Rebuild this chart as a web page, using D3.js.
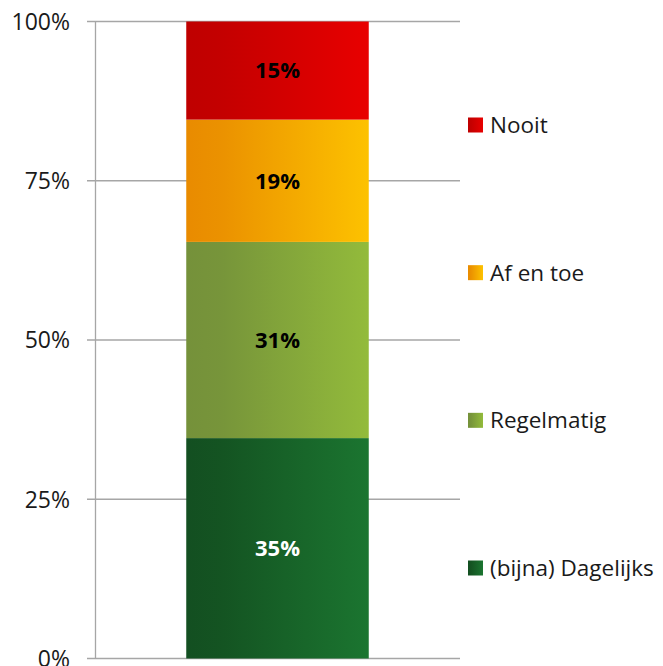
<!DOCTYPE html>
<html>
<head>
<meta charset="utf-8">
<script src="https://cdn.jsdelivr.net/npm/d3@7"></script>
<style>
    body { margin: 0; background: #fff; }
    svg { display: block; font-family: "Open Sans", "Liberation Sans", sans-serif; }
</style>
</head>
<body>
<div id="chart"></div>
<script>
// chart data
const categories = ["Totaal"];
const seriesNames = ["(bijna) Dagelijks", "Regelmatig", "Af en toe", "Nooit"];
const seriesValues = [34.6, 30.8, 19.2, 15.4];
const seriesLabels = ["35%", "31%", "19%", "15%"];
const yTicks = [0, 0.25, 0.5, 0.75, 1];

// gradient colours (left -> right)
const seriesColors = [
    ["#134f21", "#145422", "#1b7530"],
    ["#75913a", "#77953a", "#93bb3b"],
    ["#e98b00", "#eb9200", "#fdc200"],
    ["#bf0000", "#c40000", "#e80000"]
];
const labelColors = ["#ffffff", "#000000", "#000000", "#000000"];

const width = 663;
const height = 666;
const margin = { top: 21.5, right: 203, bottom: 7.5, left: 95 };

const svg = d3.select("#chart")
    .append("svg")
    .attr("width", width)
    .attr("height", height);

const defs = svg.append("defs");
seriesColors.forEach((c, i) => {
    const g = defs.append("linearGradient")
        .attr("id", `grad${i}`)
        .attr("x1", "0%").attr("x2", "100%")
        .attr("y1", "0%").attr("y2", "0%");
    g.append("stop").attr("offset", "0%").attr("stop-color", c[0]);
    g.append("stop").attr("offset", "20%").attr("stop-color", c[1]);
    g.append("stop").attr("offset", "100%").attr("stop-color", c[2]);
});

const x = d3.scaleBand()
    .domain(categories)
    .range([margin.left, width - margin.right])
    .paddingInner(0.5)
    .paddingOuter(0.25);

const y = d3.scaleLinear()
    .domain([0, 1])
    .range([height - margin.bottom, margin.top]);

// gridlines + ticks
svg.append("g")
    .selectAll("line")
    .data(yTicks)
    .join("line")
    .attr("x1", margin.left - 8)
    .attr("x2", width - margin.right)
    .attr("y1", d => y(d))
    .attr("y2", d => y(d))
    .attr("stroke", "#a6a6a6")
    .attr("stroke-width", 1.3);

// y axis line
svg.append("line")
    .attr("x1", margin.left + 0.5)
    .attr("x2", margin.left + 0.5)
    .attr("y1", y(1))
    .attr("y2", y(0))
    .attr("stroke", "#a6a6a6")
    .attr("stroke-width", 1.3);

// y tick labels
svg.append("g")
    .selectAll("text")
    .data(yTicks)
    .join("text")
    .attr("x", margin.left - 25)
    .attr("y", d => y(d))
    .attr("dy", "0.36em")
    .attr("text-anchor", "end")
    .attr("font-size", "23px")
    .attr("fill", "#1a1a1a")
    .text(d3.format(".0%"));

// stacked data
const stackRows = categories.map(() => {
    const row = {};
    seriesNames.forEach((n, i) => row[n] = seriesValues[i] / 100);
    return row;
});
const stacked = d3.stack().keys(seriesNames)(stackRows);

const seg = svg.append("g")
    .selectAll("g")
    .data(stacked)
    .join("g");

seg.selectAll("rect")
    .data((s, i) => s.map(d => ({ d, i })))
    .join("rect")
    .attr("x", (p, j) => x(categories[j]))
    .attr("width", x.bandwidth())
    .attr("y", p => y(p.d[1]))
    .attr("height", p => y(p.d[0]) - y(p.d[1]))
    .attr("fill", p => `url(#grad${p.i})`);

seg.selectAll("text")
    .data((s, i) => s.map(d => ({ d, i })))
    .join("text")
    .attr("x", (p, j) => x(categories[j]) + x.bandwidth() / 2)
    .attr("y", p => y((p.d[0] + p.d[1]) / 2))
    .attr("dy", "0.36em")
    .attr("text-anchor", "middle")
    .attr("font-size", "22px")
    .attr("font-weight", "bold")
    .attr("fill", p => labelColors[p.i])
    .text(p => seriesLabels[p.i]);

// legend (top item = last series)
const legendY = d3.scalePoint()
    .domain(seriesNames.slice().reverse())
    .range([125, 568]);

const legend = svg.append("g")
    .selectAll("g")
    .data(seriesNames)
    .join("g")
    .attr("transform", d => `translate(468,${legendY(d)})`);

legend.append("rect")
    .attr("x", 0)
    .attr("y", -7.5)
    .attr("width", 15)
    .attr("height", 15)
    .attr("fill", (d, i) => `url(#grad${i})`);

legend.append("text")
    .attr("x", 22)
    .attr("y", 0)
    .attr("dy", "0.36em")
    .attr("font-size", "22.5px")
    .attr("fill", "#1a1a1a")
    .text(d => d);
</script>
</body>
</html>
